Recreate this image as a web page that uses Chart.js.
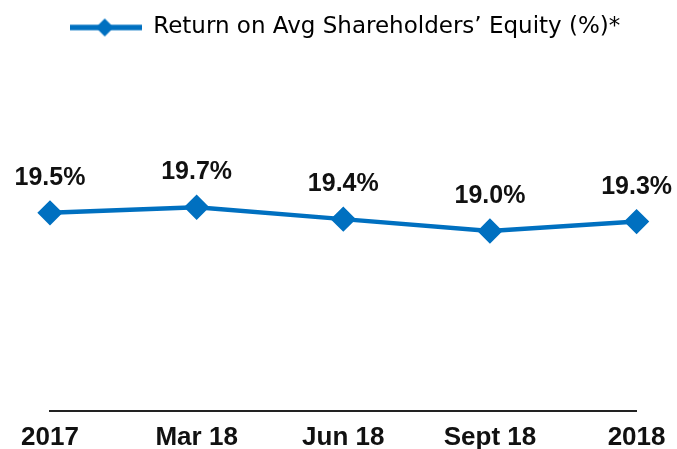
<!DOCTYPE html>
<html>
<head>
<meta charset="utf-8">
<script src="https://cdn.jsdelivr.net/npm/chart.js@4"></script>
<style>
  html, body { margin: 0; padding: 0; background: #fff; }
  #wrap { width: 677px; height: 449px; }
</style>
</head>
<body>
<div id="wrap"><canvas id="myChart"></canvas></div>
<script>
const labels = ['2017', 'Mar 18', 'Jun 18', 'Sept 18', '2018'];
const roe = [19.54, 19.70, 19.36, 19.02, 19.29];
const seriesName = 'Return on Avg Shareholders\u2019 Equity (%)*';
const blue = '#0070C0';
const boldFont = "'Liberation Sans', Arial, sans-serif";
const legendFont = "'DejaVu Sans', sans-serif";

// legend icon: line with a diamond in the middle
const icon = document.createElement('canvas');
icon.width = 72; icon.height = 20;
const ic = icon.getContext('2d');
ic.strokeStyle = blue; ic.lineWidth = 5.5;
ic.beginPath(); ic.moveTo(0, 10); ic.lineTo(72, 10); ic.stroke();
ic.fillStyle = blue;
ic.beginPath(); ic.moveTo(35, 1); ic.lineTo(44, 10); ic.lineTo(35, 19); ic.lineTo(26, 10); ic.closePath(); ic.fill();

// extra room under the legend
const legendMargin = {
  id: 'legendMargin',
  beforeInit(chart) {
    const fit = chart.legend.fit;
    chart.legend.fit = function () {
      fit.bind(chart.legend)();
      this.height += 11;
    };
  }
};

const valueLabels = {
  id: 'valueLabels',
  afterDatasetsDraw(chart) {
    const ctx = chart.ctx;
    const meta = chart.getDatasetMeta(0);
    ctx.save();
    ctx.font = "bold 25px " + boldFont;
    ctx.fillStyle = '#111';
    ctx.textAlign = 'center';
    ctx.textBaseline = 'alphabetic';
    meta.data.forEach((pt, i) => {
      ctx.fillText(roe[i].toFixed(1) + '%', pt.x, pt.y - 28);
    });
    ctx.restore();
  }
};

const data = {
  labels: labels,
  datasets: [{
    label: seriesName,
    data: roe,
    borderColor: blue,
    backgroundColor: blue,
    borderWidth: 4.5,
    pointStyle: 'rectRot',
    pointRadius: 9.5,
    pointHoverRadius: 9.5,
    tension: 0
  }]
};

const config = {
  type: 'line',
  data,
  options: {
    responsive: true,
    maintainAspectRatio: false,
    animation: false,
    layout: { padding: { left: 50, right: 37, top: 6, bottom: 0 } },
    plugins: {
      tooltip: { enabled: false },
      legend: {
        position: 'top',
        labels: {
          usePointStyle: true,
          pointStyleWidth: 72,
          padding: 10,
          color: '#111',
          font: { family: legendFont, size: 23 },
          generateLabels(chart) {
            return [{
              text: seriesName,
              pointStyle: icon,
              fillStyle: blue,
              strokeStyle: blue,
              lineWidth: 0,
              datasetIndex: 0
            }];
          }
        }
      }
    },
    scales: {
      x: {
        offset: false,
        afterFit(axis) { axis.height = 38.5; },
        grid: { display: false, drawTicks: false },
        border: { display: true, color: '#222', width: 2 },
        ticks: {
          color: '#111',
          padding: 11.5,
          font: { family: boldFont, size: 26, weight: 'bold' },
          maxRotation: 0
        }
      },
      y: {
        display: false,
        min: 13.9,
        max: 23.9
      }
    }
  },
  plugins: [legendMargin, valueLabels]
};

var myChart = new Chart(document.getElementById('myChart'), config);
</script>
</body>
</html>
